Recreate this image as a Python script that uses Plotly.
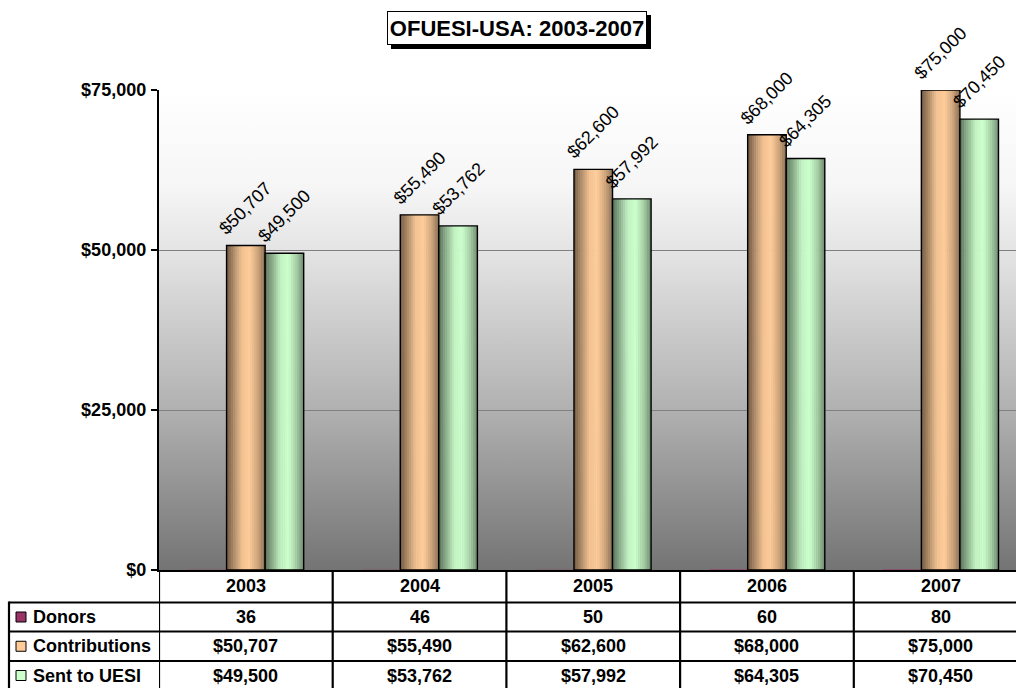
import base64
import plotly.graph_objects as go

# ---------------- data ----------------
years = ["2003", "2004", "2005", "2006", "2007"]
donors = [36, 46, 50, 60, 80]
contributions = [50707, 55490, 62600, 68000, 75000]
sent_to_uesi = [49500, 53762, 57992, 64305, 70450]
series_names = ["Donors", "Contributions", "Sent to UESI"]
y_tick_values = [0, 25000, 50000, 75000]
chart_title = "OFUESI-USA: 2003-2007"

# ---------------- layout geometry ----------------
W, H = 1016, 688
OFF = 0                      # body margin removed via post_script
L, R, T, B = 159, 0, 90, 118
PW, PH = W - L - R, H - T - B
FONT = "Liberation Sans, Arial, sans-serif"
CAT_W = 173.7

def px(xw):
    """window x pixel -> paper x"""
    return (xw - OFF - L) / PW

def py(yw):
    """window y pixel -> paper y"""
    return (H - B - (yw - OFF)) / PH

x_right = -0.5 + PW / CAT_W
xs = list(range(len(years)))
bw = 0.222
offsets = [-0.333, -0.111, 0.111]
base_colors = [(153, 51, 102), (255, 204, 153), (204, 255, 204)]

profile = [(0.0, 0.44), (0.12, 0.60), (0.40, 0.95), (0.60, 1.0), (0.82, 0.80), (1.0, 0.54)]

def shade(t):
    for (t0, v0), (t1, v1) in zip(profile[:-1], profile[1:]):
        if t0 <= t <= t1:
            return v0 + (v1 - v0) * (t - t0) / (t1 - t0)
    return 1.0

def col(rgb, f):
    return "rgb(%d,%d,%d)" % tuple(min(255, int(round(c * f))) for c in rgb)

fig = go.Figure()

# Donors (tiny bars at this scale)
fig.add_trace(go.Bar(x=xs, y=donors, offset=offsets[0], width=bw,
                     marker=dict(color="#993366", line=dict(width=0)),
                     name=series_names[0], showlegend=False, hoverinfo="skip"))

N = 18
for si, vals in ((1, contributions), (2, sent_to_uesi)):
    sw = bw / N
    for j in range(N):
        t = (j + 0.5) / N
        w = sw * 1.2 if j < N - 1 else sw
        fig.add_trace(go.Bar(x=xs, y=vals, offset=offsets[si] + j * sw, width=w,
                             marker=dict(color=col(base_colors[si], shade(t)), line=dict(width=0)),
                             showlegend=False, hoverinfo="skip"))
    fig.add_trace(go.Bar(x=xs, y=vals, offset=offsets[si], width=bw,
                         marker=dict(color="rgba(0,0,0,0)", line=dict(color="black", width=1.4)),
                         name=series_names[si], showlegend=False, hoverinfo="skip"))

annotations = []
# data labels
for si, vals in ((1, contributions), (2, sent_to_uesi)):
    for i, v in enumerate(vals):
        annotations.append(dict(x=xs[i] + offsets[si] + bw / 2, y=v, xref="x", yref="y",
                                text="${:,}".format(v), showarrow=False, textangle=-45,
                                xanchor="center", yanchor="middle", yshift=37,
                                font=dict(family=FONT, size=18, color="black")))

# title
TCX, TCY = 517, 28
annotations.append(dict(x=px(TCX), y=py(TCY), xref="paper", yref="paper",
                        text="<b>%s</b>" % chart_title, showarrow=False,
                        xanchor="center", yanchor="middle",
                        width=256, height=30, borderpad=1, borderwidth=1,
                        bordercolor="black", bgcolor="white",
                        font=dict(family=FONT, size=22, color="black")))

# table text
row_lines = [570, 602.5, 631.5, 661, 690]
row_c = [(a + b) / 2 for a, b in zip(row_lines[:-1], row_lines[1:])]
bold = dict(family=FONT, size=18, color="black")
for i, yr in enumerate(years):
    annotations.append(dict(x=xs[i], y=py(row_c[0]), xref="x", yref="paper", text="<b>%s</b>" % yr,
                            showarrow=False, xanchor="center", yanchor="middle", font=bold))
table_rows = [
    [str(d) for d in donors],
    ["${:,}".format(v) for v in contributions],
    ["${:,}".format(v) for v in sent_to_uesi],
]
for r, row in enumerate(table_rows):
    for i, txt in enumerate(row):
        annotations.append(dict(x=xs[i], y=py(row_c[r + 1]), xref="x", yref="paper",
                                text="<b>%s</b>" % txt, showarrow=False,
                                xanchor="center", yanchor="middle", font=bold))
    annotations.append(dict(x=px(31), y=py(row_c[r + 1]), xref="paper", yref="paper",
                            text="<b>%s</b>" % series_names[r], showarrow=False,
                            xanchor="left", yanchor="middle", font=bold))

shapes = []
# title shadow
shapes.append(dict(type="rect", xref="paper", yref="paper",
                   x0=px(TCX - 130 + 4), x1=px(TCX + 130 + 4),
                   y0=py(TCY + 17 + 4), y1=py(TCY - 17 + 4),
                   fillcolor="black", line=dict(width=0), layer="above"))
# table lines
lw = 2.2
for yl in row_lines[1:]:
    shapes.append(dict(type="line", xref="paper", yref="paper", x0=px(9), x1=px(W + 20),
                       y0=py(yl), y1=py(yl), line=dict(color="black", width=lw)))
shapes.append(dict(type="line", xref="paper", yref="paper", x0=px(9), x1=px(9),
                   y0=py(601.5), y1=py(700), line=dict(color="black", width=lw)))
for k in range(len(years)):
    shapes.append(dict(type="line", xref="x", yref="paper", x0=k - 0.5, x1=k - 0.5,
                       y0=py(570), y1=py(700), line=dict(color="black", width=lw)))
# legend keys
for r in range(3):
    c = row_c[r + 1]
    shapes.append(dict(type="rect", xref="paper", yref="paper", x0=px(16), x1=px(26),
                       y0=py(c + 5), y1=py(c - 5), fillcolor=col(base_colors[r], 1.0),
                       line=dict(color="black", width=1)))

# background gradient image for the plot area
svg = ('<svg xmlns="http://www.w3.org/2000/svg" width="10" height="100" viewBox="0 0 10 100" '
       'preserveAspectRatio="none"><defs><linearGradient id="g" x1="0" y1="0" x2="0" y2="1">'
       '<stop offset="0" stop-color="#ffffff"/><stop offset="0.2" stop-color="#f6f6f6"/>'
       '<stop offset="0.35" stop-color="#e2e2e2"/><stop offset="0.67" stop-color="#b0b0b0"/>'
       '<stop offset="1" stop-color="#747474"/></linearGradient></defs>'
       '<rect x="0" y="0" width="10" height="100" fill="url(#g)"/></svg>')
src = "data:image/svg+xml;base64," + base64.b64encode(svg.encode()).decode()

fig.update_layout(
    width=W, height=H,
    margin=dict(l=L, r=R, t=T, b=B, pad=0),
    paper_bgcolor="white", plot_bgcolor="rgba(0,0,0,0)",
    barmode="overlay",
    showlegend=False,
    annotations=annotations, shapes=shapes,
    images=[dict(source=src, xref="paper", yref="paper", x=0, y=1, sizex=1, sizey=1,
                 sizing="stretch", xanchor="left", yanchor="top", layer="below")],
    xaxis=dict(range=[-0.5, x_right], showticklabels=False, showgrid=False, zeroline=False,
               showline=True, linecolor="black", linewidth=2.2, ticks=""),
    yaxis=dict(range=[0, 75000], tickvals=y_tick_values, tickformat="$,.0f",
               showgrid=True, gridcolor="#808080", gridwidth=1, zeroline=False,
               showline=True, linecolor="black", linewidth=2.2,
               ticks="outside", ticklen=6, tickwidth=2, tickcolor="black",
               ticklabelstandoff=1,
               tickfont=dict(family=FONT, size=18, color="black", weight="bold")),
)

fig.write_html("out.html",
               config={"displayModeBar": False, "staticPlot": True},
               post_script="document.body.style.margin='0px';document.body.style.overflow='hidden';")
